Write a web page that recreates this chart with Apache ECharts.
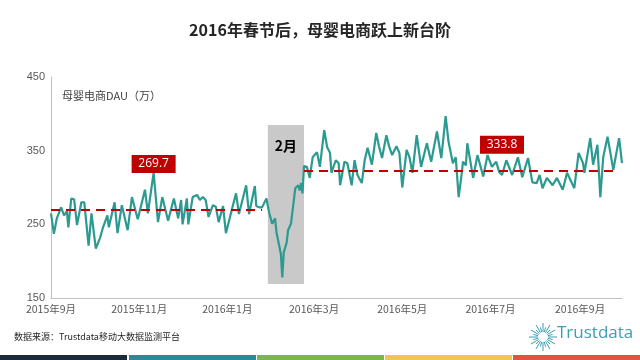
<!DOCTYPE html>
<html>
<head>
<meta charset="utf-8">
<script src="https://cdn.jsdelivr.net/npm/echarts@6/dist/echarts.min.js"></script>
<style>
html,body{margin:0;padding:0;background:#fff;}
#c{width:640px;height:360px;}
</style>
</head>
<body>
<div id="c"></div>
<script>
// ---- data ----
var titleText = '2016年春节后，母婴电商跃上新台阶';
var yAxisName = '母婴电商DAU（万）';
var sourceText = '数据来源：Trustdata移动大数据监测平台';
var startDate = [2015, 9, 1];
var dayCount = 396; // 2015-09-01 .. 2016-09-30
var yTicks = [150, 250, 350, 450];
var labelMonths = [1, 3, 5, 7, 9, 11];
// days since 2015-09-01 at which values were read
var dayOffsets = [0,2,4,7,9,11,12,14,16,18,21,23,26,28,31,34,36,39,40,44,46,49,53,56,60,65,67,71,74,77,81,85,88,90,91,94,95,98,101,103,105,107,109,112,114,116,119,121,125,128,130,135,137,141,142,144,146,149,151,153,155,156,157,159,160,161,163,164,166,168,169,171,172,173,174,175,177,179,181,184,186,189,191,193,194,197,199,200,203,205,208,210,212,215,217,219,222,225,227,229,232,234,236,239,241,243,246,248,250,253,256,260,263,267,270,273,275,278,280,282,284,285,287,288,292,295,299,302,305,308,310,312,315,319,323,326,330,333,336,338,340,343,347,350,354,357,362,365,368,369,373,375,378,380,382,385,389,393,395];
var dauValues = [265,237,258,273,262,268,246,285,284,249,280,280,221,265,217,232,246,262,246,280,238,276,242,287,257,297,265,320,253,287,255,285,258,283,250,285,250,287,290,283,287,283,260,276,274,253,275,238,269,292,264,303,264,302,275,273,273,285,265,251,258,239,241,210,178,212,225,242,251,283,299,303,296,306,292,329,328,313,341,348,328,378,355,347,320,337,333,303,335,333,303,337,317,306,337,354,331,374,355,340,371,355,344,356,347,300,351,341,320,371,328,360,335,376,340,397,362,333,341,287,317,335,330,360,313,344,315,344,328,335,321,317,337,317,341,314,340,307,306,317,299,313,303,313,297,320,299,347,333,320,367,331,358,287,341,369,324,367,333];
// average reference lines: [label, drawn level, start day, end day]
var avgLabels = ['269.7', '333.8'];
var avgLevels = [269.7, 323];
var avgStartDay = [0, 175];
var avgEndDay = [146, 389];
// Spring Festival band
var festivalLabel = '2月';
var festivalStartDay = 150;
var festivalEndDay = 175;

// ---- build ----
function pad(n){return n<10?'0'+n:''+n;}
var categories = [];
var base = Date.UTC(startDate[0], startDate[1]-1, startDate[2]);
for (var i=0;i<dayCount;i++){
  var d = new Date(base + i*86400000);
  categories.push(d.getUTCFullYear()+'-'+pad(d.getUTCMonth()+1)+'-'+pad(d.getUTCDate()));
}
var seriesData = categories.map(function(){return null;});
dayOffsets.forEach(function(off, k){ seriesData[off] = dauValues[k]; });

function isLabelDay(value){
  var p = value.split('-');
  return p[2]==='01' && labelMonths.indexOf(+p[1])>=0;
}

var chart = echarts.init(document.getElementById('c'));
var LINE = '#2b9a91', RED = '#c00000';
var fontCJK = '"Noto Sans CJK SC","Microsoft YaHei",sans-serif';

var graphics = [
  {type:'text', left:'center', top:22, style:{text:titleText, font:'bold 16px '+fontCJK, fill:'#262626'}},
  {type:'text', left:62, top:90, style:{text:yAxisName, font:'11px '+fontCJK, fill:'#404040'}},
  {type:'text', left:14, top:332, style:{text:sourceText, font:'9px '+fontCJK, fill:'#262626'}},
  {type:'text', left:557, top:325, style:{text:'Trustdata', font:'17px "Open Sans",sans-serif', fill:'#3a9fb0'}}
];
// logo sunburst
var cx=543, cy=337;
for (var r=0;r<24;r++){
  var a = r/24*Math.PI*2;
  var r1 = 5, r2 = (r%2===0)?14:10;
  graphics.push({type:'line', shape:{x1:cx+Math.cos(a)*r1, y1:cy+Math.sin(a)*r1, x2:cx+Math.cos(a)*r2, y2:cy+Math.sin(a)*r2}, style:{stroke:'#3a9fb0', lineWidth:1}});
}
// bottom colour strip
var stripColors = ['#1d2a3a','#2a8b98','#7ab648','#f2c552','#e1533f'];
stripColors.forEach(function(c, k){
  graphics.push({type:'rect', shape:{x:k*128+(k?1:0), y:355, width:127, height:5}, style:{fill:c}});
});

chart.setOption({
  animation:false,
  grid:{left:51, right:18, top:77, bottom:62},
  xAxis:{
    type:'category', data:categories, boundaryGap:false,
    axisLine:{lineStyle:{color:'#bfbfbf', width:1}},
    axisTick:{show:false},
    axisLabel:{
      interval:function(idx, val){return isLabelDay(val);},
      formatter:function(val){var p=val.split('-');return p[0]+'年'+(+p[1])+'月';},
      color:'#595959', fontSize:10.5, fontFamily:fontCJK, margin:6
    },
    splitLine:{show:false}
  },
  yAxis:{
    type:'value', min:yTicks[0], max:yTicks[yTicks.length-1], interval:100,
    axisLine:{show:true, lineStyle:{color:'#bfbfbf'}},
    axisTick:{show:false},
    axisLabel:{color:'#595959', fontSize:11, margin:6},
    splitLine:{show:false}
  },
  graphic:graphics,
  series:[{
    type:'line', data:seriesData, connectNulls:true, showSymbol:false, smooth:false,
    lineStyle:{color:LINE, width:2.2}, itemStyle:{color:LINE},
    z:3,
    markArea:{
      silent:true,
      itemStyle:{color:'#c9c9c9'},
      label:{show:true, position:'insideTop', distance:14, color:'#000', fontSize:14, fontWeight:'bold', fontFamily:fontCJK},
      data:[[{name:festivalLabel, coord:[categories[festivalStartDay], 385]}, {coord:[categories[festivalEndDay], 169]}]]
    },
    markLine:{
      silent:true, symbol:'none', label:{show:false},
      lineStyle:{color:RED, type:[9,6], width:2},
      data:avgLevels.map(function(v,k){
        return [{coord:[categories[avgStartDay[k]], v]}, {coord:[categories[avgEndDay[k]], v]}];
      })
    },
    markPoint:{
      silent:true, symbol:'rect', symbolSize:[44,18],
      itemStyle:{color:RED},
      label:{show:true, color:'#fff', fontSize:12, fontFamily:'"Open Sans",sans-serif', formatter:function(p){return p.name;}},
      data:[
        {name:avgLabels[0], coord:[categories[71], 332]},
        {name:avgLabels[1], coord:[categories[312], 358]}
      ]
    }
  }]
});
</script>
</body>
</html>
